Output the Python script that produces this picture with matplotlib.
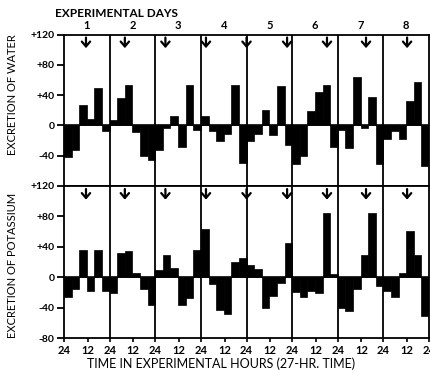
import matplotlib
matplotlib.use('Agg')
import matplotlib.pyplot as plt
import numpy as np

# six 4.5-hr collections per 27-hr experimental day, 8 days
water = [-42, -33, 27, 8, 49, -7,
         7, 36, 53, -9, -41, -46,
         -32, -4, 13, -28, 53, -6,
         13, -8, -20, -12, 53, -50,
         -21, -12, 20, -13, 52, -26,
         -51, -41, 19, 44, 53, -28,
         -6, -30, 64, -4, 37, -51,
         -18, -7, -18, 32, 57, -53]
potassium = [-26, -16, 36, -18, 36, -18,
             -21, 32, 35, 5, -16, -37,
             10, 29, 12, -37, -27, 36,
             63, -9, -43, -48, 20, 25,
             16, 11, -41, -25, -8, 45,
             -19, -26, -18, -21, 85, 4,
             -41, -45, -15, 29, 85, -11,
             -18, -26, 5, 61, 29, -51]
days = ['1', '2', '3', '4', '5', '6', '7', '8']
arrow_hours = [13, 36, 60, 84, 108, 132, 155.6, 178.7, 203]
day_len = 27
bin_len = 4.5

plt.rcParams['font.family'] = ['Lato', 'DejaVu Sans']
plt.rcParams['font.weight'] = 'bold'

fig = plt.figure(figsize=(4.31, 3.71), dpi=100)
ax1 = fig.add_axes([0.1485, 0.4987, 0.847, 0.4083])
ax2 = fig.add_axes([0.1485, 0.0889, 0.847, 0.4098])

x = np.arange(len(water)) * bin_len + bin_len / 2
total = day_len * len(days)

panels = [(ax1, water, [120, 80, 40, 0, -40], ['+120', '+80', '+40', '0', '-40']),
          (ax2, potassium, [120, 80, 40, 0, -40, -80], ['+120', '+80', '+40', '0', '-40', '-80'])]

for ax, vals, yt, ytl in panels:
    ax.bar(x, vals, width=bin_len, color='black', edgecolor='black', linewidth=0.5)
    ax.axhline(0, color='black', lw=1.2)
    for d in range(1, len(days)):
        ax.axvline(d * day_len, color='black', lw=1.3)
    for h in arrow_hours:
        ax.annotate('', xy=(h, 102), xytext=(h, 116),
                    arrowprops=dict(arrowstyle='->,head_length=0.35,head_width=0.3',
                                    color='black', lw=1.6, shrinkA=0, shrinkB=0))
    ax.set_xlim(0, total)
    ax.set_ylim(-80, 120)
    ax.set_yticks(yt)
    ax.set_yticklabels(ytl, fontsize=7.5)
    ax.tick_params(axis='y', direction='out', length=5, width=1.3, pad=2)
    for s in ax.spines.values():
        s.set_linewidth(1.3)

ax1.set_xticks([])
ax1.set_ylabel('EXCRETION OF WATER', fontsize=8)
ax1.yaxis.set_label_coords(-0.125, 0.6)
ax2.set_ylabel('EXCRETION OF POTASSIUM', fontsize=8)
ax2.yaxis.set_label_coords(-0.125, 0.48)

xt = []
xtl = []
for d in range(len(days) + 1):
    xt.append(d * day_len)
    xtl.append('24')
    if d < len(days):
        xt.append(d * day_len + 14)
        xtl.append('12')
ax2.set_xticks(xt)
ax2.set_xticklabels(xtl, fontsize=8)
ax2.tick_params(axis='x', direction='out', length=3, width=1.2, pad=2)
ax2.set_xlabel('TIME IN EXPERIMENTAL HOURS (27-HR. TIME)', fontsize=9, va='center')
ax2.xaxis.set_label_coords(0.43, -0.168)

for i, d in enumerate(days):
    ax1.text((i + 0.5) * day_len, 124, d, ha='center', va='bottom', fontsize=8)
ax1.text(31, 140, 'EXPERIMENTAL DAYS', ha='center', va='bottom', fontsize=8.5)

plt.savefig('out.png', dpi=100)
